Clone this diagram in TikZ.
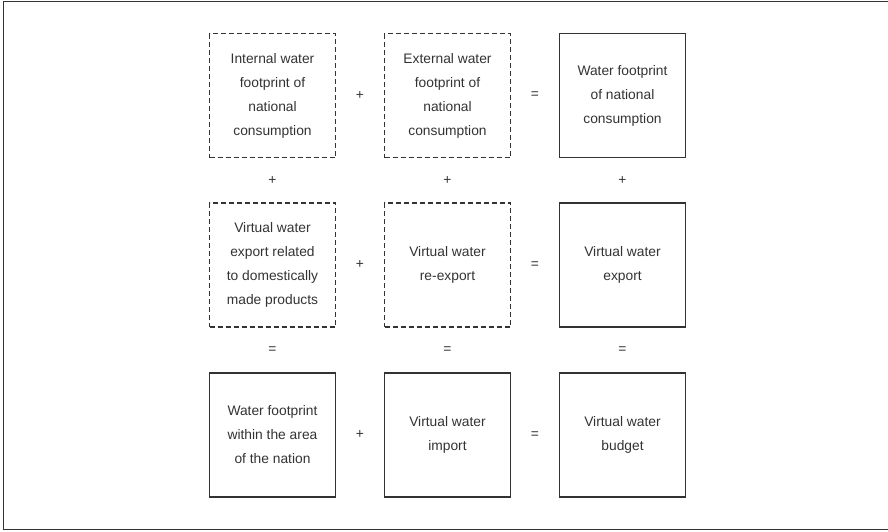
\documentclass[tikz,border=0pt]{standalone}
\usepackage{fontspec}
\setmainfont{Liberation Sans}
\usetikzlibrary{calc}
\begin{document}
\begin{tikzpicture}[x=1pt,y=-1pt,
  font=\fontsize{13.8}{24}\selectfont,
  every node/.style={text=black!80},
  solidbox/.style={draw=black!80, line width=1.2pt, minimum width=126pt, minimum height=124pt, align=center, inner sep=0pt},
  dashbox/.style={solidbox, dash pattern=on 5pt off 3pt},
  op/.style={inner sep=0pt}]
\useasboundingbox (0,0) rectangle (888,531);
\draw[black!80, line width=1.2pt] (3.5,1.5) rectangle (889.5,529.5);
% row 1
\node[dashbox] (a1) at (272.5,95.5) {Internal water\\footprint of\\national\\consumption};
\node[dashbox] (a2) at (447.5,95.5) {External water\\footprint of\\national\\consumption};
\node[solidbox] (a3) at (622.5,95.5) {Water footprint\\of national\\consumption};
% row 2
\node[dashbox] (b1) at (272.5,265) {Virtual water\\export related\\to domestically\\made products};
\node[dashbox] (b2) at (447.5,265) {Virtual water\\re-export};
\node[solidbox] (b3) at (622.5,265) {Virtual water\\export};
% row 3
\node[solidbox] (c1) at (272.5,435) {Water footprint\\within the area\\of the nation};
\node[solidbox] (c2) at (447.5,435) {Virtual water\\import};
\node[solidbox] (c3) at (622.5,435) {Virtual water\\budget};
% horizontal operators
\node[op] (h11) at ($(a1)!0.5!(a2)$) {+};
\node[op] (h12) at ($(a2)!0.5!(a3)$) {=};
\node[op] (h21) at ($(b1)!0.5!(b2)$) {+};
\node[op] (h22) at ($(b2)!0.5!(b3)$) {=};
\node[op] (h31) at ($(c1)!0.5!(c2)$) {+};
\node[op] (h32) at ($(c2)!0.5!(c3)$) {=};
% vertical operators
\node[op] (v11) at ($(a1)!0.5!(b1)$) {+};
\node[op] (v12) at ($(a2)!0.5!(b2)$) {+};
\node[op] (v13) at ($(a3)!0.5!(b3)$) {+};
\node[op] (v21) at ($(b1)!0.5!(c1)$) {=};
\node[op] (v22) at ($(b2)!0.5!(c2)$) {=};
\node[op] (v23) at ($(b3)!0.5!(c3)$) {=};
\end{tikzpicture}
\end{document}
